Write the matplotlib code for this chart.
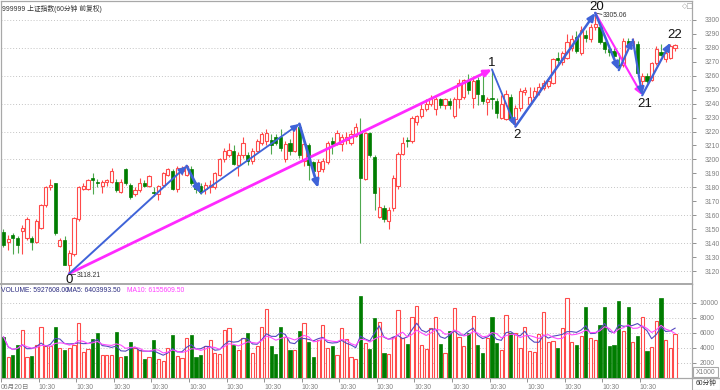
import numpy as np
import pandas as pd
import matplotlib
matplotlib.use('Agg')
import matplotlib.pyplot as plt
from matplotlib.patches import Rectangle
from matplotlib.lines import Line2D

plt.rcParams['font.family'] = ['Liberation Sans', 'Noto Sans CJK SC', 'DejaVu Sans']

title = '999999 上证指数(60分钟 前复权)'

opens = [3148, 3141, 3146, 3144, 3149, 3144, 3144, 3141, 3151, 3167,
         3180, 3183, 3138, 3142, 3124, 3132, 3157, 3179, 3179, 3187,
         3184, 3181, 3184, 3184, 3184, 3177, 3193, 3182, 3175, 3178,
         3183, 3181, 3177, 3175, 3182, 3189, 3192, 3179, 3192, 3189,
         3193, 3183, 3181, 3179, 3180, 3180, 3189, 3200, 3203, 3206,
         3196, 3203, 3203, 3199, 3206, 3212, 3213, 3214, 3216, 3216,
         3200, 3212, 3206, 3223, 3199, 3210, 3198, 3192, 3193, 3198,
         3213, 3211, 3211, 3214, 3212, 3217, 3220, 3186, 3219, 3202,
         3159, 3165, 3156, 3165, 3181, 3204, 3214, 3213, 3227, 3231,
         3236, 3240, 3236, 3243, 3239, 3242, 3231, 3243, 3245, 3257,
         3244, 3257, 3246, 3241, 3244, 3242, 3230, 3229, 3245, 3229,
         3237, 3248, 3240, 3245, 3248, 3251, 3253, 3255, 3273, 3270,
         3273, 3280, 3288, 3276, 3289, 3286, 3295, 3295, 3284, 3279,
         3278, 3268, 3268, 3285, 3282, 3283, 3256, 3260, 3257, 3269,
         3277, 3272, 3273, 3280]
highs = [3150, 3146, 3147, 3145, 3153, 3159, 3145, 3157, 3168, 3181,
         3186, 3183, 3144, 3145, 3135, 3159, 3181, 3183, 3186, 3190,
         3186, 3185, 3186, 3194, 3186, 3186, 3194, 3183, 3180, 3187,
         3185, 3189, 3180, 3182, 3191, 3194, 3193, 3195, 3195, 3196,
         3195, 3184, 3183, 3184, 3185, 3191, 3201, 3208, 3212, 3210,
         3205, 3216, 3205, 3208, 3215, 3220, 3222, 3218, 3218, 3222,
         3213, 3215, 3225, 3226, 3213, 3212, 3199, 3200, 3201, 3213,
         3216, 3221, 3218, 3220, 3221, 3226, 3230, 3220, 3220, 3203,
         3180, 3167, 3166, 3189, 3205, 3216, 3216, 3231, 3232, 3240,
         3243, 3246, 3245, 3244, 3244, 3244, 3245, 3258, 3258, 3261,
         3260, 3259, 3261, 3245, 3264.6, 3244, 3246, 3250, 3247, 3239,
         3251, 3252, 3252, 3252, 3255, 3257, 3258, 3273, 3277, 3278,
         3290, 3289, 3292, 3296, 3293, 3297, 3305.06, 3297, 3285, 3282,
         3280, 3276, 3287, 3287, 3287, 3285, 3262, 3262, 3270, 3281,
         3283, 3278, 3283, 3283]
lows = [3137, 3135, 3132, 3133, 3132, 3142, 3135, 3140, 3150, 3166,
        3178, 3146, 3137, 3124, 3118.21, 3131, 3156, 3178, 3178, 3175,
        3180, 3176, 3181, 3183, 3177, 3176, 3182, 3172, 3174, 3177,
        3180, 3180, 3174, 3171, 3181, 3188, 3178, 3177, 3189, 3188,
        3182, 3176, 3175, 3175, 3176, 3179, 3188, 3198, 3202, 3196,
        3188, 3201, 3196, 3197, 3205, 3210, 3210, 3204, 3210, 3206,
        3198, 3203, 3205, 3201, 3195, 3185, 3190, 3186, 3191, 3197,
        3204, 3210, 3206, 3211, 3210, 3216, 3140, 3185, 3202, 3164,
        3158, 3155, 3150, 3163, 3179, 3203, 3209, 3212, 3225, 3230,
        3235, 3238, 3232, 3237, 3236, 3236, 3230, 3237, 3243, 3247,
        3237, 3239, 3240, 3232, 3236, 3230, 3229, 3228, 3227, 3223.6,
        3235, 3246, 3238, 3243, 3246, 3250, 3251, 3254, 3268, 3268,
        3272, 3278, 3276, 3275, 3284, 3284, 3293, 3283, 3276, 3274,
        3271, 3264, 3266, 3279, 3280, 3261, 3246, 3255, 3256, 3268,
        3274, 3270, 3272, 3278]
closes = [3139, 3143, 3144, 3139, 3151, 3157, 3141, 3156, 3167, 3180,
          3182, 3147, 3142, 3124, 3133, 3158, 3180, 3181, 3185, 3185,
          3183, 3184, 3185, 3192, 3178, 3184, 3183, 3173, 3178, 3183,
          3181, 3188, 3176, 3181, 3190, 3193, 3179, 3194, 3194, 3195,
          3183, 3179, 3177, 3182, 3182, 3190, 3200, 3206, 3207, 3197,
          3203, 3212, 3199, 3206, 3213, 3218, 3219, 3210, 3212, 3208,
          3211, 3206, 3223, 3203, 3211, 3196, 3192, 3198, 3199, 3212,
          3211, 3219, 3216, 3216, 3218, 3223, 3187, 3219, 3203, 3176,
          3166, 3157, 3164, 3187, 3204, 3212, 3213, 3230, 3231, 3236,
          3240, 3244, 3243, 3239, 3243, 3239, 3243, 3255, 3257, 3250,
          3256, 3247, 3242, 3243, 3243, 3233, 3240, 3247, 3229, 3237,
          3249, 3250, 3245, 3249, 3252, 3255, 3256, 3272, 3271, 3276,
          3284, 3286, 3278, 3293, 3287, 3295, 3297, 3284, 3279, 3277,
          3274, 3266, 3285, 3281, 3285, 3262, 3260, 3256, 3269, 3279,
          3275, 3276, 3281, 3282]
volumes = [5500, 2800, 3100, 4400, 6400, 2800, 2900, 4400, 6800, 4200,
           4200, 6800, 4000, 3700, 4000, 4400, 7300, 3500, 3800, 5200,
           6000, 3100, 3100, 3000, 6100, 2800, 2900, 4800, 4000, 3700,
           2500, 2800, 5100, 2500, 2300, 4000, 5700, 2900, 2600, 5300,
           5700, 2800, 3100, 4200, 5100, 3300, 3200, 6400, 6600, 4400,
           3700, 5300, 6000, 3300, 4200, 6800, 9200, 4300, 3200, 6800,
           5500, 3700, 3700, 6200, 7300, 4800, 2800, 5100, 7100, 4000,
           4300, 3100, 6600, 5200, 2800, 2500, 10900,
           4600, 3900, 8000, 7400, 3300, 3200, 5400, 9000, 5300, 4500,
           8100, 9600, 4400, 3900, 6600, 8100, 4500, 3300, 6200, 9300,
           5400, 4300, 6000, 8300, 4400, 3300, 5300, 8100, 4700, 3700,
           8400, 6000, 6000, 4000, 6800, 3600, 3500, 5900, 8800, 4800,
           4900, 4000, 6600, 10600, 4800, 4400, 5600, 9500, 5300, 5000,
           7100, 9500, 4200, 4400, 10200, 6200, 9500, 4800, 5600, 8100,
           3600, 4100, 7600, 10600, 5100, 4000, 5928]

# wave annotations (candle index, price)
blue_waves = [[(14, 3118.21), (39, 3195.3)],
              [(39, 3195.3), (42, 3175.6)],
              [(42, 3175.6), (63, 3225.5)],
              [(63, 3225.5), (67, 3179.5)],
              [(104, 3264.6), (109, 3223.6)],
              [(109, 3223.6), (126, 3305.06)],
              [(126, 3305.06), (131, 3264.0)],
              [(131, 3264.0), (134, 3286.0)],
              [(134, 3286.0), (136, 3246.0)],
              [(136, 3246.0), (142, 3283.7)]]
blue_widths = [1.4, 2.0, 1.3, 2.0, 1.3, 1.8, 1.8, 1.6, 1.6, 1.6]
pink_waves = [[(14, 3118.21), (104, 3264.6)],
              [(126, 3305.06), (136, 3246.0)]]
pink_widths = [2.0, 1.5]
pivot_names = ['0', '1', '2', '20', '21', '22']
pivot_pos = [(14, 3113.3), (104, 3269.0), (109.3, 3217.5), (126.3, 3309.0), (136.5, 3240.0), (143, 3289.0)]

W, H = 720, 390
RED = '#ff4a4a'
GREEN = '#007d00'
GREEN_W = '#4fa84f'
GRAY = '#808080'
BLUE = '#3f63d8'
PINK = '#ff2aff'
SMALL = 4.9


def fx(x):
    return x / W


def fy(y):
    return 1 - y / H


fig = plt.figure(figsize=(7.2, 3.9), dpi=100)
ax = fig.add_axes([fx(1), fy(284), fx(692) - fx(1), fy(1) - fy(284)])
axv = fig.add_axes([fx(1), fy(378), fx(692) - fx(1), fy(284) - fy(378)], sharex=ax)

o, h, l, c = map(np.array, (opens, highs, lows, closes))
x = np.arange(len(c))
up = c >= o
lo_b = np.minimum(o, c)
hi_b = np.maximum(o, c)
hgt = np.maximum(hi_b - lo_b, 0.5)

# candles
ax.vlines(x[up], l[up], lo_b[up], color=RED, lw=0.8, zorder=2)
ax.vlines(x[up], hi_b[up], h[up], color=RED, lw=0.8, zorder=2)
ax.vlines(x[~up], l[~up], h[~up], color=GREEN_W, lw=0.8, zorder=2)
ax.bar(x[up], hgt[up], bottom=lo_b[up], width=0.68, facecolor='white',
       edgecolor=RED, lw=0.8, zorder=3)
ax.bar(x[~up], hgt[~up], bottom=lo_b[~up], width=0.68, facecolor=GREEN,
       edgecolor=GREEN, lw=0.5, zorder=3)

for v in range(3120, 3301, 20):
    ax.axhline(v, color='#c4c4c4', lw=0.7, ls=(0, (1, 2)), zorder=0)

# waves
for seg, lw in zip(blue_waves, blue_widths):
    (x0, y0), (x1, y1) = seg
    ax.annotate('', xy=(x1, y1), xytext=(x0, y0),
                arrowprops=dict(arrowstyle='-|>,head_length=0.5,head_width=0.22',
                                color=BLUE, lw=lw, shrinkA=0, shrinkB=0,
                                mutation_scale=9), zorder=5)
for seg, lw in zip(pink_waves, pink_widths):
    (x0, y0), (x1, y1) = seg
    ax.annotate('', xy=(x1, y1), xytext=(x0, y0),
                arrowprops=dict(arrowstyle='-|>,head_length=0.5,head_width=0.22',
                                color=PINK, lw=lw, shrinkA=0, shrinkB=0,
                                mutation_scale=9), zorder=4)

for name, (px, py) in zip(pivot_names, pivot_pos):
    ax.text(px, py, name, ha='center', va='center', fontsize=9.5, color='#111111', zorder=6)

# extreme price notes
ax.plot([14, 15.3], [3118.21, 3118.21], color='#444444', lw=0.6)
ax.text(15.5, 3117.0, '3118.21', fontsize=SMALL, color='#333333', va='center')
ax.plot([126, 127.4], [3305.06, 3304.0], color='#444444', lw=0.6)
ax.text(127.6, 3303.5, '3305.06', fontsize=SMALL, color='#333333', va='center')

ax.set_xlim(-0.53, 146.6)
ax.set_ylim(3110.7, 3313.6)
ax.yaxis.tick_right()
ax.set_yticks(np.arange(3120, 3301, 10))
ax.tick_params(axis='y', colors=GRAY, labelsize=SMALL, length=3, width=0.6, pad=6)
ax.tick_params(axis='x', bottom=False, labelbottom=False)

# volume
vol = np.array(volumes, dtype=float)
ma5 = pd.Series(vol).rolling(5, min_periods=1).mean()
ma10 = pd.Series(vol).rolling(10, min_periods=1).mean()
axv.bar(x[up], vol[up], width=0.68, facecolor='white', edgecolor=RED, lw=0.8, zorder=3)
axv.bar(x[~up], vol[~up], width=0.68, facecolor=GREEN, edgecolor=GREEN, lw=0.5, zorder=3)
axv.plot(x, ma5, color='#5548c0', lw=0.8, zorder=4)
axv.plot(x, ma10, color='#ff4cff', lw=0.8, zorder=4)
for v in range(2000, 10001, 2000):
    axv.axhline(v, color='#c4c4c4', lw=0.7, ls=(0, (1, 2)), zorder=0)
axv.set_ylim(0, 12533)
axv.yaxis.tick_right()
axv.set_yticks(np.arange(2000, 10001, 2000))
axv.tick_params(axis='y', colors=GRAY, labelsize=SMALL, length=3, width=0.6, pad=2.5)

xt = [-0.5] + [7.5 + 8 * k for k in range(17)]
xl = ['06月20日'] + ['10:30'] * 17
axv.set_xticks(xt)
axv.set_xticklabels(xl)
axv.tick_params(axis='x', colors=GRAY, labelsize=SMALL, length=3, width=0.6, pad=1)
for lbl in axv.get_xticklabels():
    lbl.set_ha('left')

for a in (ax, axv):
    for sp in a.spines.values():
        sp.set_color('#a8a8a8')
        sp.set_linewidth(0.9)
axv.spines['top'].set_linewidth(1.4)

fig.text(fx(2), fy(9), title, fontsize=SMALL, color='#333333', va='center')
fig.text(fx(682), fy(6), '◇□', fontsize=5, color='#999999', va='center', family='DejaVu Sans')
fig.text(fx(1), fy(290), 'VOLUME: 5927608.00', fontsize=SMALL, color='#2c2c80', va='center')
fig.text(fx(67), fy(290), 'MA5: 6403993.50', fontsize=SMALL, color='#2c2c80', va='center')
fig.text(fx(127), fy(290), 'MA10: 6155609.50', fontsize=SMALL, color='#ff3cff', va='center')

fig.patches.append(Rectangle((fx(693), fy(377)), fx(25), fy(367) - fy(377), transform=fig.transFigure,
                             fill=False, edgecolor='#a8a8a8', lw=0.8))
fig.text(fx(705.5), fy(372), 'X1000', fontsize=SMALL, color=GRAY, ha='center', va='center')
fig.patches.append(Rectangle((fx(692), fy(389.5)), fx(27.5), fy(378) - fy(389.5), transform=fig.transFigure,
                             fill=False, edgecolor='#a8a8a8', lw=0.8))
fig.text(fx(706), fy(384), '60分钟', fontsize=SMALL, color='#333333', ha='center', va='center')
fig.lines.append(Line2D([fx(692), fx(720)], [fy(378), fy(378)], transform=fig.transFigure,
                        color='#a8a8a8', lw=0.9))

fig.savefig('out.png', dpi=100)
